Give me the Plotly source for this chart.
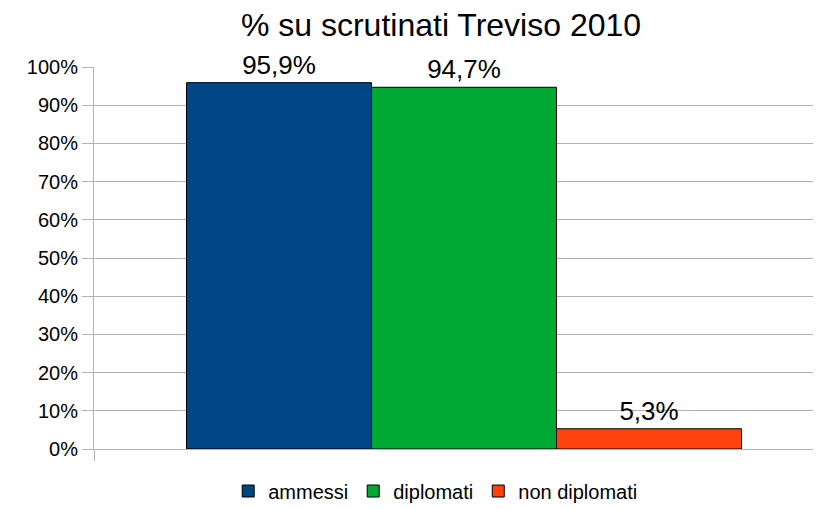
import plotly.graph_objects as go

categories = [""]
series_names = ["ammessi", "diplomati", "non diplomati"]
series_values = [[95.9], [94.7], [5.3]]
series_colors = ["#004586", "#00a933", "#ff420e"]
y_ticks = list(range(0, 101, 10))
y_tick_labels = [f"{v}%" for v in y_ticks]

fig = go.Figure()
for name, vals, col in zip(series_names, series_values, series_colors):
    fig.add_trace(go.Bar(
        x=categories, y=vals, name=name,
        marker=dict(color=col, line=dict(color="#000000", width=1)),
        texttemplate="%{y:.1f}%", textposition="outside",
        textfont=dict(size=26, color="#000000"),
        cliponaxis=False,
    ))

fig.update_layout(
    width=813, height=501,
    paper_bgcolor="white", plot_bgcolor="white",
    font=dict(family="Liberation Sans, Arial, sans-serif", size=20, color="#000000"),
    separators=",.",
    title=dict(text="% su scrutinati Treviso 2010", x=0.5326, xanchor="center",
               y=0.966, yanchor="middle", font=dict(size=32)),
    margin=dict(l=86, r=0, t=59, b=60, autoexpand=False),
    barmode="group", bargap=0.25, bargroupgap=0,
    showlegend=True,
    legend=dict(orientation="h", x=0.47, xanchor="center", y=-0.11, yanchor="middle",
                font=dict(size=20), traceorder="normal"),
)
fig.update_xaxes(type="category", range=[-0.5, 0.4824], showticklabels=False,
                 showline=True, linecolor="#b3b3b3", linewidth=1, showgrid=False,
                 ticks="outside", tickson="boundaries", ticklen=11, tickcolor="#b3b3b3")
fig.update_yaxes(range=[0, 100], tickvals=y_ticks, ticktext=y_tick_labels,
                 showgrid=True, gridcolor="#b3b3b3", gridwidth=1,
                 showline=True, linecolor="#b3b3b3", linewidth=1,
                 ticks="outside", ticklen=11, tickcolor="#b3b3b3",
                 zeroline=False, tickfont=dict(size=20))
fig.write_html("out.html")
